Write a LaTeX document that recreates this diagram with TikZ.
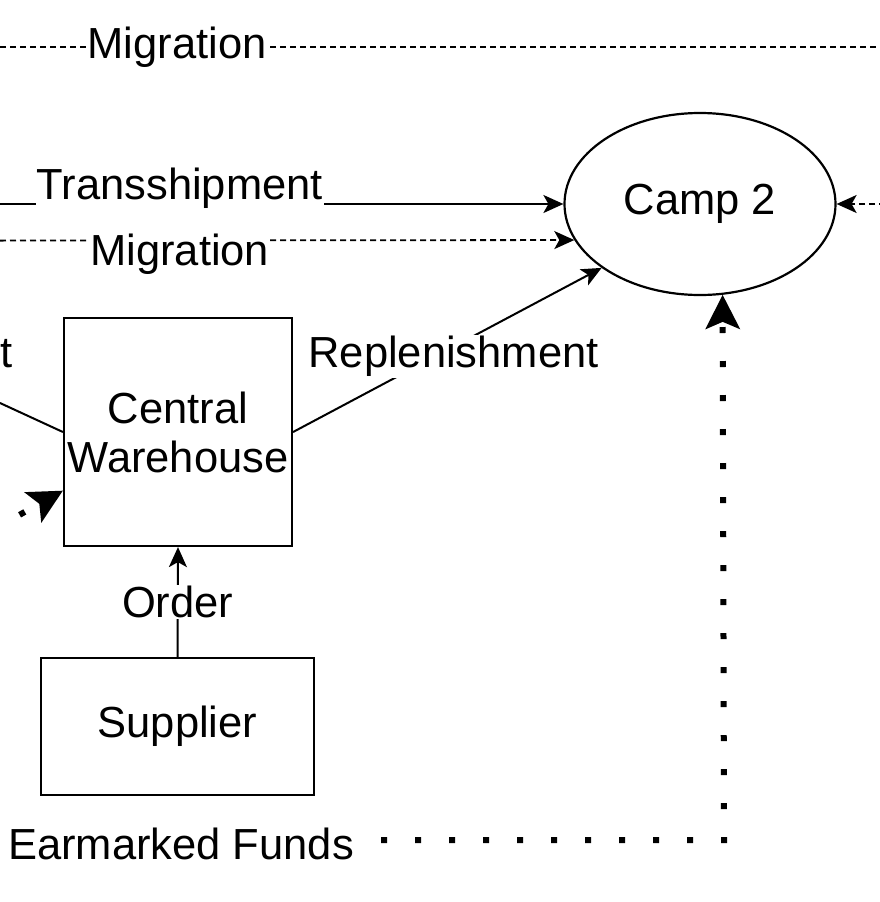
\documentclass[tikz,border=0pt]{standalone}
\usepackage{fontspec}
\setmainfont{Liberation Sans}
\usetikzlibrary{arrows.meta,shapes.geometric}
\begin{document}
\begin{tikzpicture}[x=1pt,y=-1pt,
  every node/.style={font=\fontsize{43.5}{49}\selectfont},
  box/.style={draw, line width=2.2pt, inner sep=0pt, align=center},
  ell/.style={draw, ellipse, line width=2.2pt, inner sep=0pt, minimum width=271pt, minimum height=182pt},
  lbl/.style={fill=white, inner sep=1pt},
  solidline/.style={line width=2pt},
  dashline/.style={line width=1.8pt, dash pattern=on 6pt off 4pt},
  dotline/.style={line width=6pt, dash pattern=on 6pt off 28pt},
  tip/.style={-{Stealth[length=20pt,width=18pt,inset=5pt]}},
  bigtip/.style={-{Stealth[length=34pt,width=34pt,inset=7pt]}}]
\useasboundingbox (0,0) rectangle (879,902);

\node[ell] (camp2) at (700,204) {Camp 2};
\node[box, minimum width=228pt, minimum height=228pt] (cw) at (178,432) {Central\\Warehouse};
\node[box, minimum width=273pt, minimum height=137pt] (sup) at (177.5,726.5) {Supplier};

\coordinate (m1l) at (0,47);
\coordinate (m1r) at (885,47);
\coordinate (tl) at (0,204);
\coordinate (m2l) at (0,240.6);
\coordinate (rr) at (885,204);
\coordinate (ll) at (0,403);
\coordinate (dl) at (-10.1,531.4);
\coordinate (ef) at (-27,840);
\coordinate (ec) at (724,840);

\draw[dashline] (m1l) -- node[lbl, pos=0.2] {Migration} (m1r);
\draw[solidline, tip] (tl) -- node[lbl, pos=0.319, yshift=16pt] {Transshipment} (camp2.west);
\draw[dashline, tip] (m2l) -- node[lbl, pos=0.313, yshift=-14pt] {Migration} (camp2.196.5);
\draw[dashline, tip] (rr) -- (camp2.east);
\draw[solidline] (ll) -- (cw.west);
\node[anchor=base west, inner sep=0pt] (tlabel) at (0,367) {t};
\draw[dotline, bigtip] (dl) -- (cw.207);
\draw[solidline, tip] (sup.north) -- node[lbl] {Order} (cw.south);
\draw[solidline, tip] (cw.east) -- node[lbl, pos=0.52, yshift=-10pt] {Replenishment} (camp2.213);
\draw[dotline, bigtip] (ef) -- node[lbl, pos=0.277, yshift=-4pt] {Earmarked Funds} (ec) -- (camp2.284.2);
\end{tikzpicture}
\end{document}
